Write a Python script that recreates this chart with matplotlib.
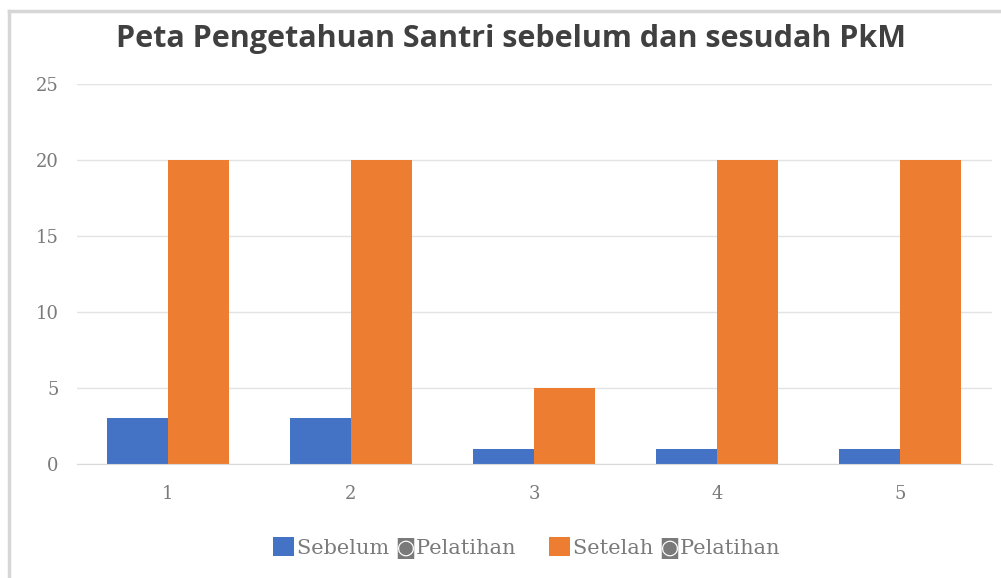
import numpy as np
import matplotlib.pyplot as plt
from matplotlib.lines import Line2D

kategori = ['1', '2', '3', '4', '5']
sebelum = [3, 3, 1, 1, 1]
setelah = [20, 20, 5, 20, 20]
label_seri = ['Sebelum \u25d9Pelatihan', 'Setelah \u25d9Pelatihan']
judul = 'Peta Pengetahuan Santri sebelum dan sesudah PkM'

biru = '#4472c4'
oranye = '#ed7d31'
abu_teks = '#7a7a7a'

fig = plt.figure(figsize=(10.01, 5.78), dpi=100)
ax = fig.add_axes([76.5 / 1001, 1 - 464 / 578, 915 / 1001, 380 / 578])

x = np.arange(len(kategori))
w = 1 / 3
ax.bar(x - w / 2, sebelum, w, color=biru, label=label_seri[0])
ax.bar(x + w / 2, setelah, w, color=oranye, label=label_seri[1])

ax.set_xlim(-0.5, len(kategori) - 0.5)
ax.set_ylim(0, 25)
ax.set_yticks(range(0, 26, 5))
ax.set_xticks(x)
ax.set_xticklabels(kategori)
ax.grid(axis='y', color='#e3e3e3', linewidth=1)
ax.set_axisbelow(True)
for s in ['top', 'right', 'left']:
    ax.spines[s].set_visible(False)
ax.spines['bottom'].set_color('#d9d9d9')
ax.tick_params(length=0, labelsize=13)
ax.tick_params(axis='x', pad=15)
ax.tick_params(axis='y', pad=13)
for t in ax.get_xticklabels() + ax.get_yticklabels():
    t.set_family('DejaVu Serif')
    t.set_color(abu_teks)

fig.text(0.51, 1 - 39 / 578, judul, ha='center', va='center', fontsize=22,
         fontweight='bold', color='#404040', family='Open Sans')

leg = fig.legend(loc='center', bbox_to_anchor=(0.526, 1 - 548 / 578), ncol=2,
                 frameon=False, handlelength=1.0, handleheight=1.0,
                 handletextpad=0.15, columnspacing=1.6,
                 prop={'family': ['DejaVu Serif', 'DejaVu Sans'], 'size': 15})
for t in leg.get_texts():
    t.set_color(abu_teks)

# bingkai grafik
fig.add_artist(Line2D([8.5 / 1001, 8.5 / 1001], [0, 1 - 11 / 578], color='#d6d6d6', lw=2.5))
fig.add_artist(Line2D([8.5 / 1001, 1], [1 - 11 / 578, 1 - 11 / 578], color='#d6d6d6', lw=2.5))

fig.savefig('out.png', dpi=100)
